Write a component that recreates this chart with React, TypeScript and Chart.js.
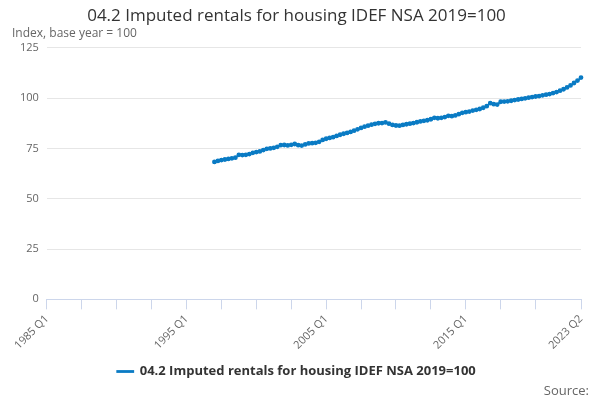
import { Chart } from "chart.js/auto";
import { useEffect, useRef } from "react";

const seriesName = "04.2 Imputed rentals for housing IDEF NSA 2019=100";
const firstYear = 1985;
const lastYear = 2023;
const lastQuarter = 2;
const leadingGap = 48; // quarters before 1997 Q1 with no data

const rentals = [
  68.3, 68.8, 69.2, 69.5,
  69.8, 70.1, 70.4, 71.8,
  71.7, 71.8, 72.2, 72.8,
  73.2, 73.5, 74.2, 74.8,
  75.0, 75.3, 75.8, 76.6,
  76.7, 76.5, 76.8, 77.2,
  76.6, 76.4, 77.0, 77.5,
  77.6, 77.8, 78.3, 79.2,
  79.8, 80.2, 80.6, 81.2,
  81.8, 82.3, 82.7, 83.2,
  83.8, 84.5, 85.2, 85.8,
  86.3, 86.8, 87.2, 87.5,
  87.6, 87.9, 87.3, 86.7,
  86.4, 86.3, 86.7, 87.0,
  87.3, 87.6, 88.0, 88.4,
  88.7, 89.0, 89.5, 90.2,
  90.0, 90.2, 90.6, 91.2,
  91.0, 91.4, 92.0, 92.7,
  93.0, 93.3, 93.8, 94.2,
  94.6, 95.2, 96.0, 97.5,
  97.0, 96.8, 98.2, 98.3,
  98.4, 98.7, 99.0, 99.3,
  99.6, 99.9, 100.2, 100.5,
  100.8, 101.0, 101.4, 101.7,
  102.0, 102.5, 103.0, 103.7,
  104.4, 105.3, 106.3, 107.5,
  108.7, 110.2,
];

const quarters: string[] = [];
for (let y = firstYear; y <= lastYear; y++) {
  for (let q = 1; q <= 4; q++) {
    if (y === lastYear && q > lastQuarter) break;
    quarters.push(`${y} Q${q}`);
  }
}

const values: (number | null)[] = [...Array(leadingGap).fill(null), ...rentals];
const lastIndex = quarters.length - 1;
const isTick = (i: number) => i === lastIndex || (i % 10 === 0 && lastIndex - i > 5);
const isLabel = (i: number) => i === lastIndex || i % 40 === 0;

const blue = "#0a7bc4";
const font = "'Open Sans', 'DejaVu Sans', sans-serif";

export default function App() {
  const chartRef = useRef<HTMLCanvasElement>(null);
  const chartInstanceRef = useRef<Chart | null>(null);

  useEffect(() => {
    document.body.style.margin = "0";
    if (chartRef.current) {
      const context = chartRef.current.getContext("2d") as CanvasRenderingContext2D;
      if (chartInstanceRef.current) chartInstanceRef.current.destroy();

      chartInstanceRef.current = new Chart(context, {
        type: "line",
        data: {
          labels: quarters,
          datasets: [
            {
              label: seriesName,
              data: values,
              borderColor: blue,
              backgroundColor: blue,
              borderWidth: 1.8,
              pointRadius: 1.5,
              pointHoverRadius: 3,
              tension: 0,
            },
          ],
        },
        plugins: [
          {
            id: "source",
            afterDraw(chart) {
              const c = chart.ctx;
              c.save();
              c.font = `13px ${font}`;
              c.fillStyle = "#666";
              c.textAlign = "right";
              c.textBaseline = "alphabetic";
              c.fillText("Source:", 589, 395);
              c.restore();
            },
          },
        ],
        options: {
          animation: false,
          responsive: false,
          layout: { padding: { left: 12, right: 19, bottom: 12 } },
          plugins: {
            title: {
              display: true,
              text: seriesName,
              color: "#333",
              font: { family: font, size: 17, weight: "normal" },
              padding: { top: 6, bottom: 0 },
            },
            subtitle: {
              display: true,
              text: "Index, base year = 100",
              align: "start",
              color: "#666",
              font: { family: font, size: 12 },
              padding: { top: 0, bottom: 7 },
            },
            legend: {
              position: "bottom",
              labels: {
                color: "#333",
                font: { family: font, size: 13, weight: "bold" },
                boxWidth: 16,
                boxHeight: 1,
                padding: 10,
              },
            },
            tooltip: { enabled: false },
          },
          scales: {
            x: {
              grid: {
                drawOnChartArea: false,
                color: (ctx) => (isTick(ctx.index) ? "#ccd6eb" : "rgba(0,0,0,0)"),
                tickLength: 10,
              },
              border: { color: "#ccd6eb" },
              ticks: {
                autoSkip: false,
                maxRotation: 45,
                minRotation: 45,
                color: "#666",
                font: { family: font, size: 11 },
                callback: (_v, i) => (isLabel(i) ? quarters[i] : ""),
              },
            },
            y: {
              min: 0,
              max: 125,
              grid: { color: "#e6e6e6", drawTicks: false },
              border: { display: false },
              ticks: {
                stepSize: 25,
                padding: 8,
                color: "#666",
                font: { family: font, size: 11 },
              },
            },
          },
        },
      });
    }
    return () => {
      if (chartInstanceRef.current) chartInstanceRef.current.destroy();
    };
  }, []);

  return <canvas ref={chartRef} width={600} height={400}></canvas>;
}
